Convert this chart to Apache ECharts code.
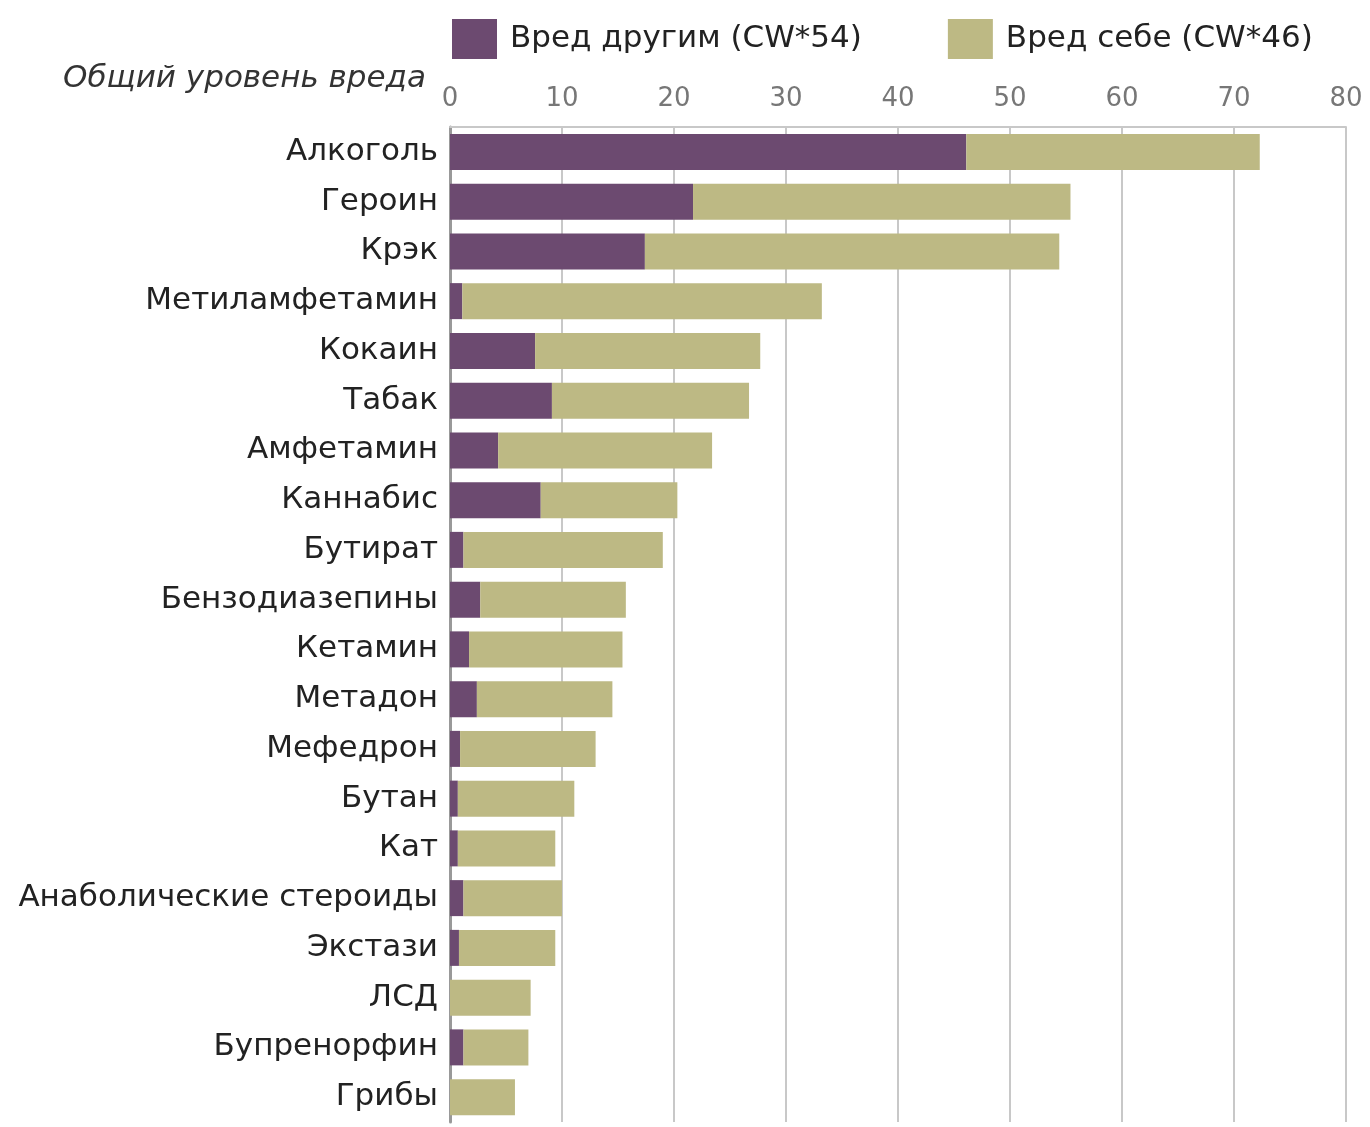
<!DOCTYPE html>
<html>
<head>
<meta charset="utf-8">
<script src="https://cdn.jsdelivr.net/npm/echarts@6/dist/echarts.min.js"></script>
<style>
html,body{margin:0;padding:0;background:#fff;}
#chart{width:1370px;height:1127px;}
</style>
</head>
<body>
<div id="chart"></div>
<script>
const categories = ["Алкоголь","Героин","Крэк","Метиламфетамин","Кокаин","Табак","Амфетамин","Каннабис","Бутират","Бензодиазепины","Кетамин","Метадон","Мефедрон","Бутан","Кат","Анаболические стероиды","Экстази","ЛСД","Бупренорфин","Грибы"];
const harmOthers = [46.1,21.7,17.4,1.1,7.6,9.1,4.3,8.1,1.2,2.7,1.7,2.4,0.9,0.7,0.7,1.2,0.8,0,1.2,0];
const harmSelf   = [26.2,33.7,37.0,32.1,20.1,17.6,19.1,12.2,17.8,13.0,13.7,12.1,12.1,10.4,8.7,8.8,8.6,7.2,5.8,5.8];
const xTicks = [0,10,20,30,40,50,60,70,80];
const seriesNames = ["Вред другим (CW*54)","Вред себе (CW*46)"];
const axisTitle = "Общий уровень вреда";

const chart = echarts.init(document.getElementById('chart'));
const font = "'DejaVu Sans', sans-serif";
chart.setOption({
  animation:false,
  textStyle:{fontFamily:font},
  title:{
    text:axisTitle, left:58, top:58,
    textStyle:{fontStyle:'italic', fontWeight:'normal', fontSize:31, color:'#333', fontFamily:font}
  },
  legend:{
    left:447, top:14, itemWidth:45, itemHeight:40, itemGap:86,
    icon:'rect',
    textStyle:{fontSize:31, color:'#222', fontFamily:font, padding:[0,0,0,8]},
    data:seriesNames
  },
  grid:{left:450, right:24, top:127, bottom:5, containLabel:false},
  xAxis:{
    type:'value', position:'top', min:xTicks[0], max:xTicks[xTicks.length-1], interval:10,
    axisLine:{show:true, lineStyle:{color:'#c8c8c8', width:2}},
    axisTick:{show:false},
    axisLabel:{fontSize:26, color:'#777', margin:15, fontFamily:font},
    splitLine:{show:true, lineStyle:{color:'#c8c8c8', width:2}}
  },
  yAxis:{
    type:'category', inverse:true, data:categories,
    axisLine:{show:true, lineStyle:{color:'#999', width:3}},
    axisTick:{show:false},
    axisLabel:{fontSize:31, color:'#222', margin:12, fontFamily:font}
  },
  series:[
    {name:seriesNames[0], type:'bar', stack:'t', data:harmOthers, barWidth:36,
     itemStyle:{color:'#6c4a70'}},
    {name:seriesNames[1], type:'bar', stack:'t', data:harmSelf, barWidth:36,
     itemStyle:{color:'#bdb984'}}
  ]
});
</script>
</body>
</html>
